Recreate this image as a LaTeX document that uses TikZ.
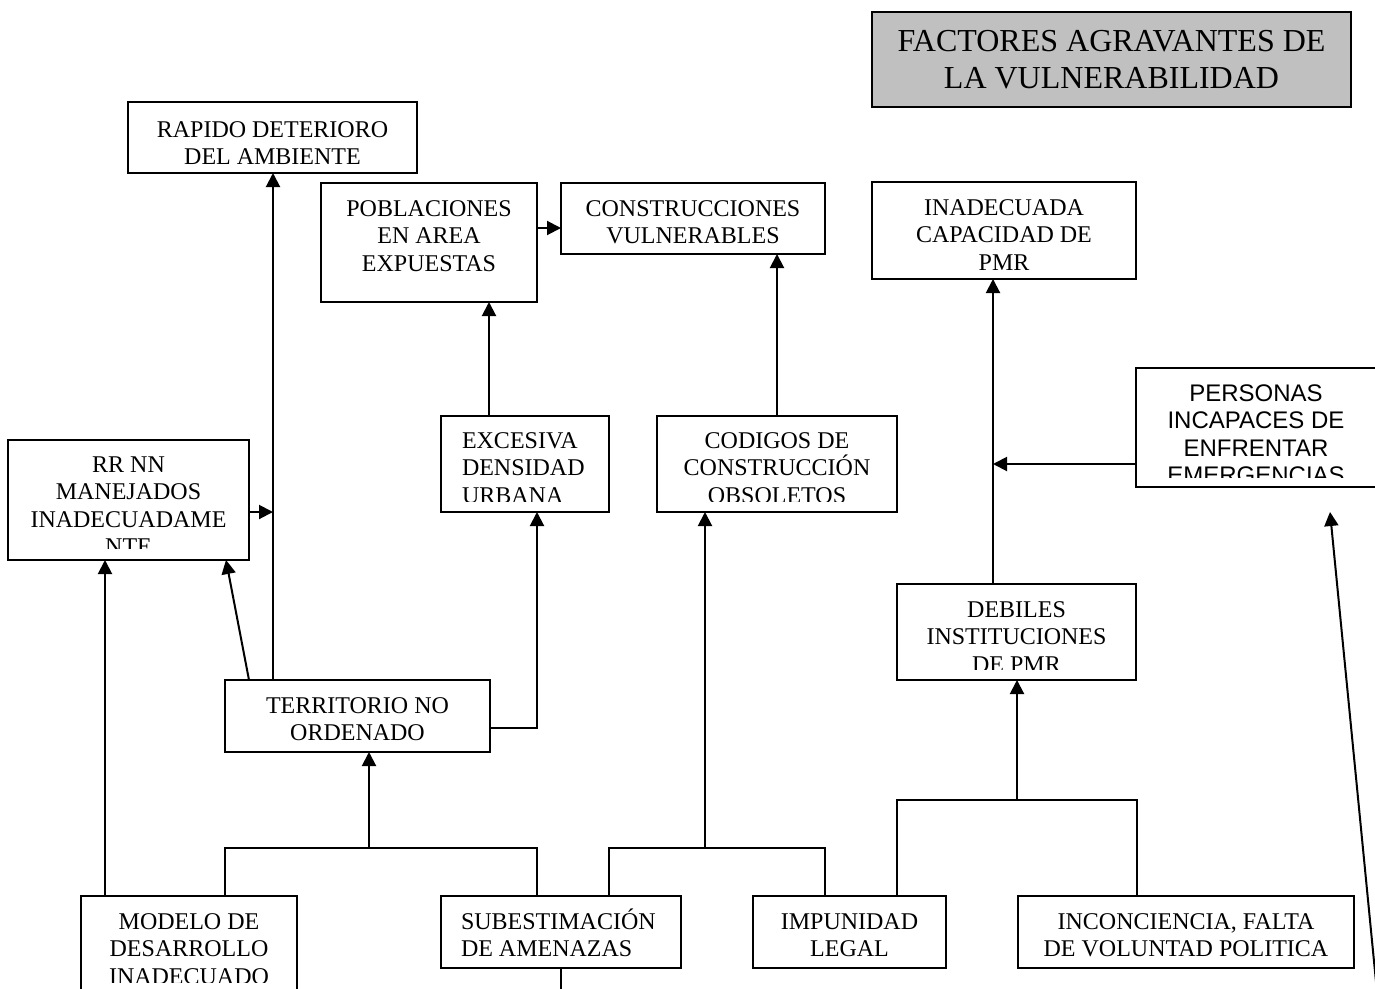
\documentclass[tikz,border=0pt]{standalone}
\usepackage{fontspec}
\setmainfont{Liberation Serif}
\newfontfamily\arialf{Liberation Sans}
\usetikzlibrary{arrows.meta}
\definecolor{ttlgray}{RGB}{192,192,192}
\newcommand\tp{\rule{0pt}{23pt}}
\tikzset{
  boxst/.style={draw, line width=2pt, inner sep=0pt, outer sep=0pt, anchor=north west},
  txt/.style={inner sep=0pt, outer sep=0pt, align=center, anchor=north, font=\fontsize{24}{27.6}\selectfont},
  txtl/.style={txt, align=left, anchor=north west},
  ln/.style={line width=2pt},
  arr/.style={ln, -{Triangle[length=14pt,width=14pt]}}
}
% box: name, x1, y1, x2, y2
\newcommand\mybox[5]{\node[boxst, minimum width={#4-#2}, minimum height={#5-#3}] (#1) at (#2,#3) {};}
\begin{document}
\begin{tikzpicture}[x=1pt,y=-1pt]
\useasboundingbox (0,0) rectangle (1375,988);
% boxes
\mybox{ttl}{872}{12}{1351}{107}
\path[fill=ttlgray] (ttl.north west) rectangle (ttl.south east);
\draw[line width=2pt] (ttl.north west) rectangle (ttl.south east);
\mybox{rap}{128}{102}{417}{173}
\mybox{pob}{321}{183}{537}{302}
\mybox{con}{561}{183}{825}{254}
\mybox{inad}{872}{182}{1136}{279}
\mybox{pers}{1136}{368}{1380}{487}
\mybox{rr}{8}{440}{249}{560}
\mybox{exc}{441}{416}{609}{512}
\mybox{cod}{657}{416}{897}{512}
\mybox{deb}{897}{584}{1136}{680}
\mybox{terr}{225}{680}{490}{752}
\mybox{mod}{81}{896}{297}{1010}
\mybox{sub}{441}{896}{681}{968}
\mybox{imp}{753}{896}{946}{968}
\mybox{inc}{1018}{896}{1354}{968}
% texts
\node[txt, font=\fontsize{32}{37}\selectfont] (ttlt) at (1111.5,51-23) {\tp FACTORES AGRAVANTES DE\\LA VULNERABILIDAD};
\node[txt] (rapt) at (272.5,137-23) {\tp RAPIDO DETERIORO\\DEL AMBIENTE};
\node[txt] (pobt) at (429,216-23) {\tp POBLACIONES\\EN AREA\\EXPUESTAS};
\node[txt] (cont) at (693,216-23) {\tp CONSTRUCCIONES\\VULNERABLES};
\node[txt] (inadt) at (1004,215-23) {\tp INADECUADA\\CAPACIDAD DE\\PMR};
\begin{scope}
\clip (1136,368) rectangle (1380,477);
\node[txt, font=\arialf\fontsize{24}{27.6}\selectfont] (perst) at (1256,401-23) {\tp PERSONAS\\INCAPACES DE\\ENFRENTAR\\EMERGENCIAS};
\end{scope}
\begin{scope}
\clip (8,440) rectangle (249,548);
\node[txt] (rrt) at (128.5,472-23) {\tp RR NN\\MANEJADOS\\INADECUADAME\\NTE};
\end{scope}
\begin{scope}
\clip (441,416) rectangle (609,501);
\node[txtl] (exct) at (462,448-23) {\tp EXCESIVA\\DENSIDAD\\URBANA};
\end{scope}
\begin{scope}
\clip (657,416) rectangle (897,501);
\node[txt] (codt) at (777,448-23) {\tp CODIGOS DE\\CONSTRUCCIÓN\\OBSOLETOS};
\end{scope}
\begin{scope}
\clip (897,584) rectangle (1136,669);
\node[txt] (debt) at (1016.5,617-23) {\tp DEBILES\\INSTITUCIONES\\DE PMR};
\end{scope}
\node[txt] (terrt) at (357.5,713-23) {\tp TERRITORIO NO\\ORDENADO};
\begin{scope}
\clip (81,896) rectangle (297,982);
\node[txt] (modt) at (189,929-23) {\tp MODELO DE\\DESARROLLO\\INADECUADO};
\end{scope}
\node[txtl] (subt) at (461,929-23) {\tp SUBESTIMACIÓN\\DE AMENAZAS};
\node[txt] (impt) at (849.5,929-23) {\tp IMPUNIDAD\\LEGAL};
\node[txt] (inct) at (1186,929-23) {\tp INCONCIENCIA, FALTA\\DE VOLUNTAD POLITICA};
% helper coordinates
\coordinate (xa) at (273,0);
\coordinate (xb) at (537,0);
\coordinate (xc) at (369,0);
\coordinate (xd) at (225,0);
\coordinate (xe) at (105,0);
\coordinate (xf) at (609,0);
\coordinate (xg) at (825,0);
\coordinate (xh) at (705,0);
\coordinate (xi) at (897,0);
\coordinate (xj) at (1137,0);
\coordinate (xk) at (1017,0);
\coordinate (xl) at (993,0);
\coordinate (xm) at (489,0);
\coordinate (xn) at (777,0);
\coordinate (xo) at (561,0);
\coordinate (ya) at (0,848);
\coordinate (yb) at (0,800);
\coordinate (ry) at (0,512);
\coordinate (ty) at (0,728);
\coordinate (py) at (0,464);
\coordinate (cy) at (0,228);
\coordinate (ybot) at (0,995);
\coordinate (dstart) at (1377,992);
\coordinate (dend) at (1330,512);
% connectors
\draw[arr] (terr.north -| xa) -- (rap.south -| xa);
\draw[arr] (rr.east |- ry) -- (xa |- ry);
\draw[arr] ([xshift=24pt]terr.north west) -- ([xshift=218pt]rr.south west);
\draw[arr] (terr.east |- ty) -| (exc.south -| xb);
\draw[arr] (mod.north -| xe) -- (rr.south -| xe);
\draw[ln] (mod.north -| xd) |- (xb |- ya) -- (sub.north -| xb);
\draw[arr] (xc |- ya) -- (terr.south -| xc);
\draw[ln] (sub.north -| xf) |- (xg |- ya) -- (imp.north -| xg);
\draw[arr] (xh |- ya) -- (cod.south -| xh);
\draw[ln] (imp.north -| xi) |- (xj |- yb) -- (inc.north -| xj);
\draw[arr] (xk |- yb) -- (deb.south -| xk);
\draw[arr] (deb.north -| xl) -- (inad.south -| xl);
\draw[arr] (pers.west |- py) -- (xl |- py);
\draw[arr] (exc.north -| xm) -- (pob.south -| xm);
\draw[arr] (cod.north -| xn) -- (con.south -| xn);
\draw[arr] (pob.east |- cy) -- (con.west |- cy);
\draw[ln] (sub.south -| xo) -- (xo |- ybot);
\draw[arr] (dstart) -- (dend);
\end{tikzpicture}
\end{document}
